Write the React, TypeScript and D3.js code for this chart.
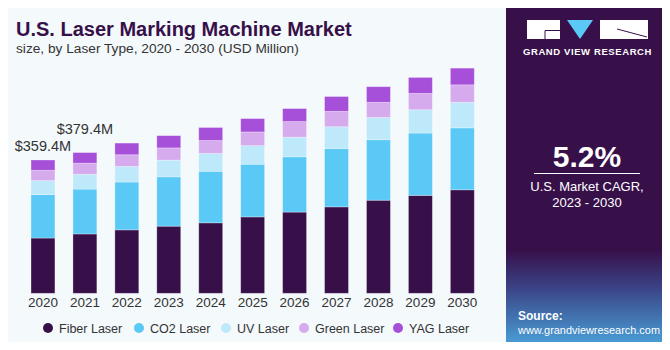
import React, { useEffect, useRef } from "react";
import * as d3 from "d3";

const years = ["2020", "2021", "2022", "2023", "2024", "2025", "2026", "2027", "2028", "2029", "2030"];
const seriesNames = ["Fiber Laser", "CO2 Laser", "UV Laser", "Green Laser", "YAG Laser"];
const fiber = [149, 160, 171, 181, 190, 206, 219, 233, 251, 264, 279];
const co2 = [117, 121, 129, 133, 139, 142, 149, 157, 163, 168, 167];
const uv = [37.7, 40, 42, 45, 48, 50, 53, 59, 60, 63, 69];
const green = [28, 29.7, 31.5, 33, 35, 37, 42, 41.5, 41, 44, 47];
const yag = [27.7, 28.7, 31.5, 33, 35, 36, 35, 40, 42, 43, 45];
const labelled = [
  { year: "2020", text: "$359.4M", lift: 9 },
  { year: "2021", text: "$379.4M", lift: 19 },
];
const colors = ["#37104a", "#5bc9f6", "#bde9fa", "#d6abee", "#a650d9"];

const W = 670;
const H = 350;
const FONT = "'Liberation Sans', Arial, sans-serif";

const App = () => {
  const ref = useRef<SVGSVGElement>(null);

  useEffect(() => {
    const svg = d3.select(ref.current);
    svg.selectAll("*").remove();

    const defs = svg.append("defs");
    const grad = defs
      .append("linearGradient")
      .attr("id", "panelGrad")
      .attr("x1", 0)
      .attr("y1", 0)
      .attr("x2", 0)
      .attr("y2", 1);
    grad.append("stop").attr("offset", "0%").attr("stop-color", "#37104a");
    grad.append("stop").attr("offset", "72%").attr("stop-color", "#37104a");
    grad.append("stop").attr("offset", "82%").attr("stop-color", "#3a3f82");
    grad.append("stop").attr("offset", "100%").attr("stop-color", "#4aa5dc");

    // card
    svg
      .append("rect")
      .attr("x", 0.5)
      .attr("y", 0.5)
      .attr("width", W - 1)
      .attr("height", H - 2)
      .attr("rx", 6)
      .attr("fill", "#f4f9fc")
      .attr("stroke", "#d4d8db");
    svg.append("rect").attr("x", 1).attr("y", 0).attr("width", 506).attr("height", 5).attr("fill", "#5bc5f0");

    // right panel
    svg
      .append("path")
      .attr("d", `M506,0 H662 Q669,0 669,7 V348 H506 Z`)
      .attr("fill", "url(#panelGrad)");

    const panel = svg.append("g").attr("font-family", FONT).attr("fill", "#fff");
    panel.append("rect").attr("x", 527).attr("y", 20).attr("width", 33).attr("height", 19).attr("fill", "#fff");
    panel.append("path").attr("d", "M567,20 L593,20 L580,39 Z").attr("fill", "#5bc9f6");
    panel.append("rect").attr("x", 600).attr("y", 20).attr("width", 48).attr("height", 19).attr("fill", "#fff");
    panel.append("path").attr("d", "M545,30.5 H560 M545,30.5 V39").attr("stroke", "#37104a").attr("stroke-width", 1);
    panel.append("path").attr("d", "M617,29 L647,37").attr("stroke", "#37104a").attr("stroke-width", 1);
    panel
      .append("text")
      .attr("x", 587.5)
      .attr("y", 55)
      .attr("text-anchor", "middle")
      .attr("font-size", 9.5)
      .attr("font-weight", "bold")
      .attr("letter-spacing", 0.6)
      .text("GRAND VIEW RESEARCH");
    panel
      .append("text")
      .attr("x", 587)
      .attr("y", 167)
      .attr("text-anchor", "middle")
      .attr("font-size", 30)
      .attr("font-weight", "bold")
      .text("5.2%");
    panel.append("line").attr("x1", 534).attr("x2", 640).attr("y1", 173.5).attr("y2", 173.5).attr("stroke", "#fff").attr("stroke-width", 1);
    panel.append("text").attr("x", 587).attr("y", 191).attr("text-anchor", "middle").attr("font-size", 13).text("U.S. Market CAGR,");
    panel.append("text").attr("x", 587).attr("y", 207).attr("text-anchor", "middle").attr("font-size", 13).text("2023 - 2030");
    panel.append("text").attr("x", 518).attr("y", 320).attr("font-size", 12).attr("font-weight", "bold").text("Source:");
    panel
      .append("text")
      .attr("x", 518)
      .attr("y", 334)
      .attr("font-size", 11.5)
      .attr("textLength", 142)
      .attr("lengthAdjust", "spacingAndGlyphs")
      .text("www.grandviewresearch.com");

    // title
    svg
      .append("text")
      .attr("x", 16)
      .attr("y", 36)
      .attr("font-family", FONT)
      .attr("font-size", 20)
      .attr("font-weight", "bold")
      .attr("fill", "#37104a")
      .text("U.S. Laser Marking Machine Market");
    svg
      .append("text")
      .attr("x", 16)
      .attr("y", 53)
      .attr("font-family", FONT)
      .attr("font-size", 13.7)
      .attr("fill", "#333")
      .text("size, by Laser Type, 2020 - 2030 (USD Million)");

    // data
    const rows = years.map((yr, i) => ({
      year: yr,
      [seriesNames[0]]: fiber[i],
      [seriesNames[1]]: co2[i],
      [seriesNames[2]]: uv[i],
      [seriesNames[3]]: green[i],
      [seriesNames[4]]: yag[i],
    }));
    const stacked = d3.stack<any>().keys(seriesNames)(rows);

    const x = d3.scaleBand().domain(years).range([22, 483.3]).paddingInner(0.43).paddingOuter(0.215);
    const y = d3.scaleLinear().domain([0, 400]).range([293.3, 293.3 - 400 / 2.696]);
    const color = d3.scaleOrdinal<string>().domain(seriesNames).range(colors);

    const g = svg.append("g");
    g.selectAll("g.layer")
      .data(stacked)
      .enter()
      .append("g")
      .attr("class", "layer")
      .attr("fill", (d) => color(d.key))
      .selectAll("rect")
      .data((d) => d)
      .enter()
      .append("rect")
      .attr("x", (d: any) => x(d.data.year)!)
      .attr("y", (d) => y(d[1]))
      .attr("width", x.bandwidth())
      .attr("height", (d) => y(d[0]) - y(d[1]))
      .attr("stroke", "rgba(255,255,255,0.35)")
      .attr("stroke-width", 0.8);

    // x labels
    svg
      .append("g")
      .selectAll("text")
      .data(years)
      .enter()
      .append("text")
      .attr("x", (d) => x(d)! + x.bandwidth() / 2)
      .attr("y", 307)
      .attr("text-anchor", "middle")
      .attr("font-family", FONT)
      .attr("font-size", 13.5)
      .attr("fill", "#333")
      .text((d) => d);

    // total labels
    const totals = d3.rollup(
      stacked[stacked.length - 1].map((d: any) => ({ year: d.data.year, top: d[1] })),
      (v) => v[0].top,
      (d) => d.year
    );
    svg
      .append("g")
      .selectAll("text")
      .data(labelled)
      .enter()
      .append("text")
      .attr("x", (d) => x(d.year)! + x.bandwidth() / 2)
      .attr("y", (d) => y(totals.get(d.year)!) - d.lift)
      .attr("text-anchor", "middle")
      .attr("font-family", FONT)
      .attr("font-size", 14.5)
      .attr("fill", "#333")
      .text((d) => d.text);

    // legend
    const legendX = [48, 139, 226, 304, 398];
    const lg = svg.append("g").attr("font-family", FONT).attr("font-size", 12.5).attr("fill", "#333");
    seriesNames.forEach((name, i) => {
      lg.append("circle").attr("cx", legendX[i]).attr("cy", 328).attr("r", 5).attr("fill", colors[i]);
      lg.append("text").attr("x", legendX[i] + 11).attr("y", 332.5).text(name);
    });
  }, []);

  return <svg ref={ref} width={W} height={H} style={{ display: "block", margin: -8 }} />;
};

export default App;
